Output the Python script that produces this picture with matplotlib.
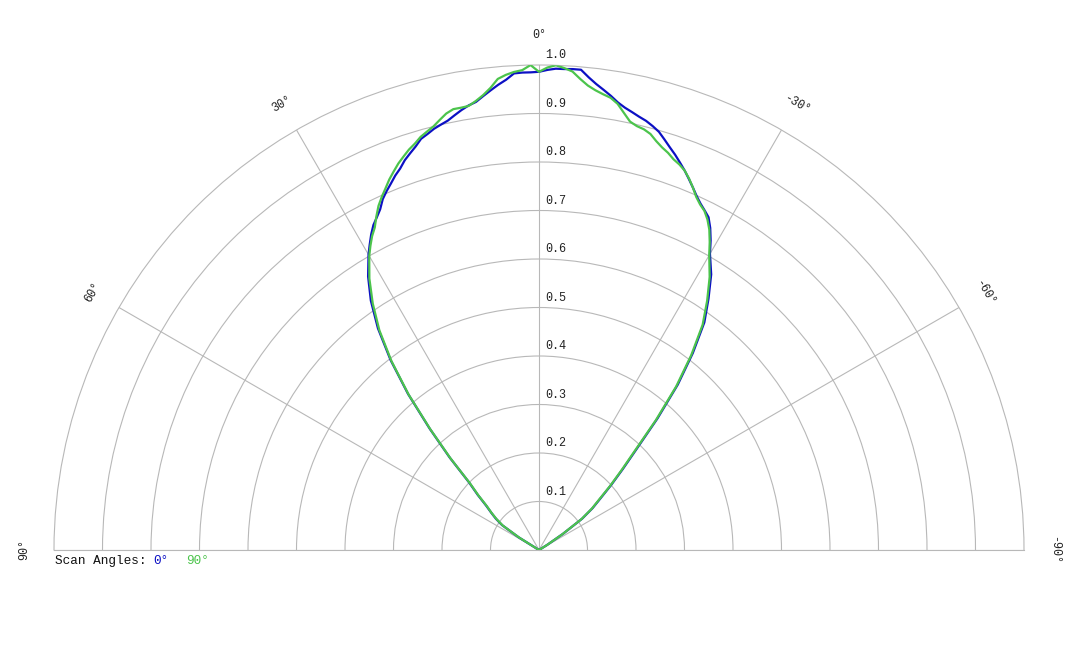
import numpy as np
import matplotlib
matplotlib.use('Agg')
import matplotlib.pyplot as plt

# scan angle in degrees (0 = up, positive = left)
angles = [-90, -60, -58, -56, -54, -52, -50, -48, -46, -44, -42, -40, -38, -36, -34, -32,
          -30, -29, -28, -27, -26, -25, -24, -23, -22, -21, -20, -19, -18, -17, -16, -15,
          -14, -13, -12, -11, -10, -9, -8, -7, -6, -5, -4, -3, -2, -1, 0,
          1, 2, 3, 4, 5, 6, 7, 8, 9, 10, 11, 12, 13, 14, 15, 16, 17, 18, 19, 20,
          21, 22, 23, 24, 25, 26, 27, 28, 29, 30,
          32, 34, 36, 38, 40, 42, 44, 46, 48, 50, 52, 54, 56, 58, 60, 90]

scan_0 = [0.0, 0.0, 0.02, 0.06, 0.11, 0.14, 0.165, 0.20, 0.24, 0.29, 0.365, 0.445, 0.515, 0.58, 0.625, 0.67,
          0.705, 0.730, 0.752, 0.770, 0.779, 0.788, 0.799, 0.812, 0.825, 0.838, 0.850, 0.862, 0.873, 0.885, 0.897, 0.905,
          0.912, 0.917, 0.923, 0.929, 0.937, 0.948, 0.958, 0.968, 0.980, 0.994, 0.994, 0.993, 0.993, 0.990, 0.986,
          0.985, 0.985, 0.984, 0.972, 0.963, 0.953, 0.943, 0.933, 0.928, 0.921, 0.913, 0.905, 0.900, 0.895, 0.888, 0.882, 0.870, 0.860, 0.850, 0.837,
          0.827, 0.815, 0.804, 0.792, 0.775, 0.763, 0.752, 0.737, 0.720, 0.703,
          0.665, 0.62, 0.565, 0.497, 0.42, 0.337, 0.265, 0.20, 0.17, 0.142, 0.125, 0.11, 0.092, 0.05, 0.0, 0.0]

scan_90 = [0.0, 0.0, 0.02, 0.058, 0.108, 0.138, 0.162, 0.197, 0.236, 0.285, 0.36, 0.44, 0.51, 0.574, 0.62, 0.664,
           0.702, 0.726, 0.748, 0.765, 0.778, 0.786, 0.797, 0.812, 0.826, 0.838, 0.846, 0.852, 0.861, 0.868, 0.877, 0.888,
           0.894, 0.897, 0.903, 0.918, 0.934, 0.944, 0.949, 0.955, 0.963, 0.975, 0.989, 0.995, 1.0, 0.995, 0.986,
           1.0, 0.99, 0.987, 0.982, 0.975, 0.958, 0.945, 0.935, 0.927, 0.926, 0.926, 0.920, 0.910, 0.900, 0.893, 0.886, 0.876, 0.868, 0.858, 0.848,
           0.836, 0.824, 0.810, 0.797, 0.783, 0.765, 0.746, 0.733, 0.717, 0.700,
           0.66, 0.613, 0.56, 0.494, 0.418, 0.335, 0.263, 0.198, 0.168, 0.14, 0.124, 0.108, 0.09, 0.048, 0.0, 0.0]

ring_values = [0.1, 0.2, 0.3, 0.4, 0.5, 0.6, 0.7, 0.8, 0.9]
ring_labels = ['0.1', '0.2', '0.3', '0.4', '0.5', '0.6', '0.7', '0.8', '0.9', '1.0']
spoke_angles = [-90, -60, -30, 0, 30, 60, 90]
spoke_labels = ['-90°', '-60°', '-30°', '0°', '30°', '60°', '90°']

BLUE = '#0c10c4'
GREEN = '#4cc44c'
GRID = '#b8b8b8'
FONT = 'Liberation Mono'

W, H = 1080, 648
cx, cy, R = 539, 550, 485   # centre and radius in pixels (from top)

fig = plt.figure(figsize=(W / 100, H / 100), dpi=100)
# the half wedge sits in the middle of a square box
box_top = cy - R - R / 2
ax = fig.add_axes([(cx - R) / W, (H - box_top - 2 * R) / H, 2 * R / W, 2 * R / H],
                  projection='polar')
ax.set_theta_zero_location('N')
ax.set_theta_direction(1)
ax.set_thetamin(-90)
ax.set_thetamax(90)
ax.set_rlim(0, 1.0)

th = np.radians(angles)
ax.plot(th, scan_0, color=BLUE, lw=1.6, zorder=3)
ax.plot(th, scan_90, color=GREEN, lw=1.6, zorder=4)

ax.set_rgrids(ring_values, labels=[''] * len(ring_values))
ax.set_thetagrids(spoke_angles, labels=[''] * len(spoke_angles))
ax.grid(True, color=GRID, lw=0.8)
for sp in ax.spines.values():
    sp.set_color(GRID)
    sp.set_linewidth(0.8)
ax.tick_params(length=0)

# radial labels along the 0 spoke
for r, lab in zip(ring_values + [1.0], ring_labels):
    ax.annotate(lab, xy=(0, r), xytext=(4.5, 2.8), textcoords='offset points',
                ha='left', va='bottom', fontsize=8.5, family=FONT, color='#222222')

# angle labels
for a, lab in zip(spoke_angles, spoke_labels):
    ax.text(np.radians(a), 1.062, lab, rotation=a, rotation_mode='anchor',
            ha='center', va='center', fontsize=8.5, family=FONT, color='#222222')

# scan angle legend
ly = 1 - 561 / H
fig.text(55 / W, ly, 'Scan Angles:', fontsize=9.2, family=FONT,
         color='#111111', va='center', ha='left')
fig.text(153 / W, ly, '0°', fontsize=9.2, family=FONT,
         color=BLUE, va='center', ha='left')
fig.text(186 / W, ly, '90°', fontsize=9.2, family=FONT,
         color=GREEN, va='center', ha='left')

fig.savefig('out.png', dpi=100)
